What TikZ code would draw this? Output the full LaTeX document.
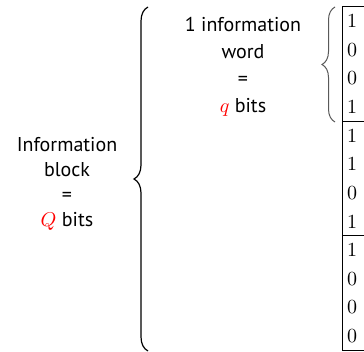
\documentclass[tikz,border=0pt]{standalone}
\usepackage{fontspec}
\setsansfont{PT Sans}
\usetikzlibrary{decorations.pathreplacing}
\begin{document}
\begin{tikzpicture}[x=0.5pt,y=-0.5pt,
  lbl/.style={font=\sffamily\fontsize{10}{12.5}\selectfont, align=center, inner sep=0pt},
  lblw/.style={font=\sffamily\fontsize{10}{13.5}\selectfont, align=center, inner sep=0pt},
  bit/.style={font=\fontsize{10}{12}\selectfont, anchor=center, inner sep=0pt},
  gridline/.style={line width=0.5pt},
  bigbrace/.style={decorate, decoration={brace, amplitude=7pt}, line width=0.6pt},
  smallbrace/.style={decorate, decoration={brace, amplitude=6.5pt}, line width=0.5pt, black!65}]
\useasboundingbox (0,0) rectangle (364,352);
% table
\coordinate (tl) at (342,7);
\coordinate (tr) at (364,7);
\coordinate (bl) at (342,350);
\coordinate (br) at (364,350);
\coordinate (s1l) at (342,122);
\coordinate (s1r) at (364,122);
\coordinate (s2l) at (342,236);
\coordinate (s2r) at (364,236);
\draw[gridline] (tr) -- (tl) -- (bl) -- (br);
\draw[gridline] (s1l) -- (s1r);
\draw[gridline] (s2l) -- (s2r);
\foreach \b [count=\i from 0] in {1,0,0,1,1,1,0,1,1,0,0,0}
  \node[bit] (b\i) at (352, 7+14.3+28.6*\i) {\b};
% braces
\coordinate (bigB) at (148,351);
\coordinate (bigT) at (148,7);
\draw[bigbrace] (bigB) -- (bigT);
\coordinate (smB) at (335,122);
\coordinate (smT) at (335,7);
\draw[smallbrace] (smB) -- (smT);
% labels
\node[lbl] (block) at (67,184) {Information\\block\\=\\\textcolor{red}{$Q$} bits};
\node[lblw] (word) at (243,67) {1 information\\word\\=\\\textcolor{red}{$q$} bits};
\end{tikzpicture}
\end{document}
